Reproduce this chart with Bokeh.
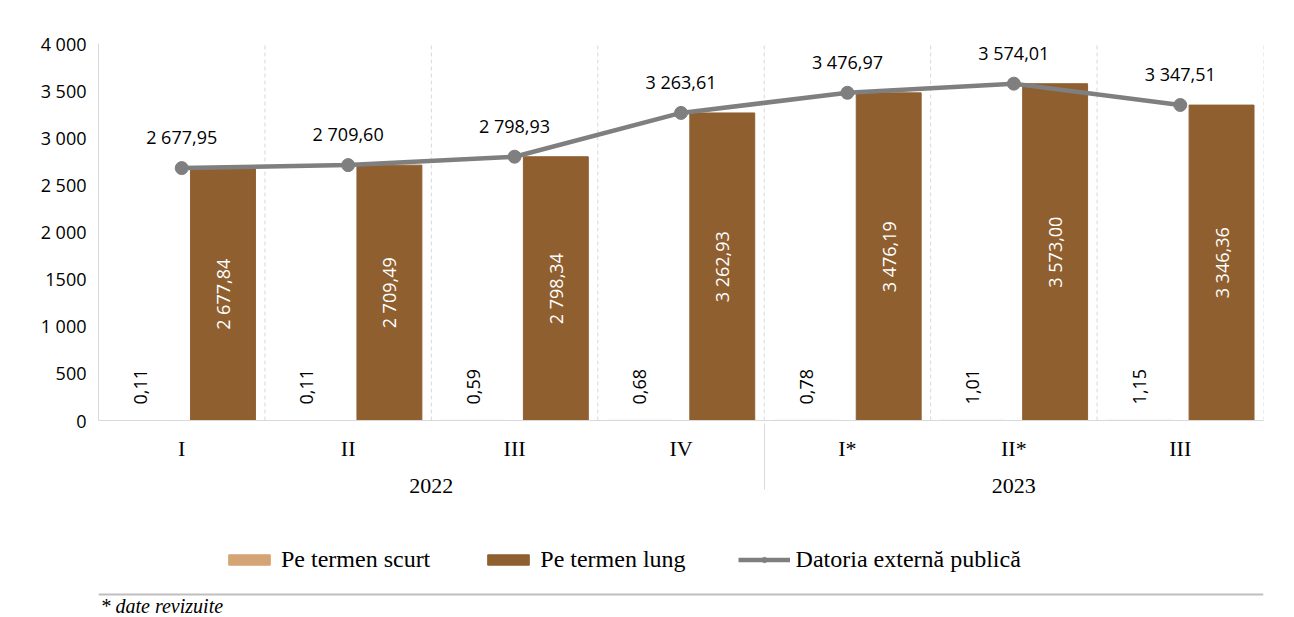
import math
from bokeh.plotting import figure
from bokeh.models import (ColumnDataSource, FactorRange, LabelSet, Legend, LegendItem,
                          Label, Span, FixedTicker, Range1d)
from bokeh.layouts import column
from bokeh.transform import dodge
from bokeh.core.properties import value
from bokeh.embed import file_html
from bokeh.resources import INLINE

# ---------------- data ----------------
years = ["2022", "2022", "2022", "2022", "2023", "2023", "2023"]
quarters = ["I", "II", "III", "IV", "I*", "II*", "III"]
short_term = [0.11, 0.11, 0.59, 0.68, 0.78, 1.01, 1.15]
long_term = [2677.84, 2709.49, 2798.34, 3262.93, 3476.19, 3573.00, 3346.36]
public_debt = [2677.95, 2709.60, 2798.93, 3263.61, 3476.97, 3574.01, 3347.51]
y_ticks = [0, 500, 1000, 1500, 2000, 2500, 3000, 3500, 4000]
y_tick_labels = ["0", "500", "1 000", "1500", "2 000", "2 500", "3 000", "3 500", "4 000"]
series_names = ["Pe termen scurt", "Pe termen lung", "Datoria externă publică"]
footnote = "* date revizuite"

# ---------------- styles ----------------
C_SHORT = "#D5A475"
C_LONG = "#8F5F30"
C_LINE = "#7F7F7F"
C_GRID = "#D9D9D9"
C_BORDER = "#BFBFBF"
SANS = "Open Sans"
SERIF = "Liberation Serif"


def fmt(v):
    s = f"{v:,.2f}"
    return s.replace(",", " ").replace(".", ",")


factors = list(zip(years, quarters))
src = ColumnDataSource(dict(
    x=factors,
    short=short_term,
    long=long_term,
    long_mid=[v / 2 for v in long_term],
    total=public_debt,
    short_lbl=[fmt(v) for v in short_term],
    long_lbl=[fmt(v) for v in long_term],
    total_lbl=[fmt(v) for v in public_debt],
    y0=[0] * len(factors),
    y1=[4000] * len(factors),
))

p = figure(
    x_range=FactorRange(*factors, group_padding=0, range_padding=0),
    y_range=(0, 4000),
    width=1290, height=520,
    output_backend="svg", toolbar_location=None,
    min_border_left=98, min_border_top=43, min_border_right=27, min_border_bottom=100,
    background_fill_color="white", border_fill_color="white",
)
p.outline_line_color = None
p.xgrid.grid_line_color = None
p.ygrid.grid_line_color = None

OFF = 0.248
W = 0.39

# dashed vertical separators at category boundaries
p.segment(x0=dodge("x", 0.5, range=p.x_range), y0="y0",
          x1=dodge("x", 0.5, range=p.x_range), y1="y1",
          source=src, line_color=C_GRID, line_width=1, line_dash="4 3")

r_short = p.vbar(x=dodge("x", -OFF, range=p.x_range), top="short", width=W,
                 source=src, fill_color=C_SHORT, line_color=C_SHORT)
r_long = p.vbar(x=dodge("x", OFF, range=p.x_range), top="long", width=W,
                source=src, fill_color=C_LONG, line_color=C_LONG)
r_line = p.line(x="x", y="total", source=src, line_color=C_LINE, line_width=4.5)
r_pts = p.scatter(x="x", y="total", source=src, size=13, fill_color=C_LINE,
                  line_color=C_LINE)

# labels
p.add_layout(LabelSet(x="x", y="total", text="total_lbl", source=src,
                      text_align="center", text_baseline="bottom", y_offset=19,
                      text_font=value(SANS), text_font_size="18px", text_color="#000000"))
p.add_layout(LabelSet(x=dodge("x", OFF, range=p.x_range), y="long_mid", text="long_lbl",
                      source=src, angle=math.pi / 2, text_align="center",
                      text_baseline="middle",
                      text_font=value(SANS), text_font_size="18px", text_color="#FFFFFF"))
p.add_layout(LabelSet(x=dodge("x", -OFF, range=p.x_range), y="short", text="short_lbl",
                      source=src, angle=math.pi / 2, text_align="left",
                      text_baseline="middle", y_offset=16,
                      text_font=value(SANS), text_font_size="18px", text_color="#000000"))

# axes
p.yaxis.ticker = FixedTicker(ticks=y_ticks)
p.yaxis.major_label_overrides = {t: l for t, l in zip(y_ticks, y_tick_labels)}
p.yaxis.major_label_text_font = SANS
p.yaxis.major_label_text_font_size = "18px"
p.yaxis.major_label_text_color = "#000000"
p.yaxis.major_tick_line_color = None
p.yaxis.minor_tick_line_color = None
p.yaxis.major_tick_out = 0
p.yaxis.major_tick_in = 0
p.yaxis.minor_tick_out = 0
p.yaxis.axis_line_color = C_GRID
p.yaxis.major_label_standoff = 12

p.xaxis.axis_line_color = C_GRID
p.xaxis.major_tick_line_color = None
p.xaxis.minor_tick_line_color = None
p.xaxis.major_tick_out = 0
p.xaxis.major_tick_in = 0
p.xaxis.major_label_text_font = SERIF
p.xaxis.major_label_text_font_size = "22px"
p.xaxis.major_label_text_color = "#000000"
p.xaxis.group_text_font = SERIF
p.xaxis.group_text_font_size = "22px"
p.xaxis.group_text_color = "#000000"
p.xaxis.group_text_font_style = "normal"
p.xaxis.separator_line_color = C_GRID
p.xaxis.separator_line_width = 1
p.xaxis.major_label_standoff = 15

# ---------------- legend + footnote strip ----------------
H2 = 96
q = figure(width=1290, height=H2, x_range=Range1d(0, 1165), y_range=Range1d(0, H2),
           x_axis_type=None, y_axis_type=None, output_backend="svg",
           toolbar_location=None, min_border=0, min_border_left=0, min_border_right=0,
           min_border_top=0, min_border_bottom=0,
           background_fill_color="white", border_fill_color="white")
q.outline_line_color = None
# legend swatch proxies, placed outside the visible range
proxy = ColumnDataSource(dict(x=[-5000], top=[-5000], y=[-5000]))
l_short = q.vbar(x="x", top="top", width=1, source=proxy, fill_color=C_SHORT,
                 line_color=C_SHORT)
l_long = q.vbar(x="x", top="top", width=1, source=proxy, fill_color=C_LONG,
                line_color=C_LONG)
l_line = q.line(x="x", y="y", source=proxy, line_color=C_LINE, line_width=4.5)
l_pts = q.scatter(x="x", y="y", source=proxy, size=9, fill_color=C_LINE, line_color=C_LINE)

legend = Legend(items=[
    LegendItem(label=series_names[0], renderers=[l_short]),
    LegendItem(label=series_names[1], renderers=[l_long]),
    LegendItem(label=series_names[2], renderers=[l_line, l_pts]),
], orientation="horizontal", location=(125, 43),
    glyph_width=52, glyph_height=13, label_standoff=6, spacing=52,
    label_text_font=SERIF, label_text_font_size="24px", label_text_color="#000000",
    border_line_color=None, background_fill_alpha=0, padding=0, margin=0)
q.add_layout(legend, "center")

q.add_layout(Span(location=22, dimension="width", line_color=C_BORDER, line_width=2))
q.add_layout(Label(x=2, y=0, x_units="screen", y_units="screen", text=footnote,
                   text_font=SERIF, text_font_style="italic", text_font_size="20px",
                   text_color="#000000", text_baseline="bottom", text_align="left"))

layout = column(p, q, spacing=0)
open("out.html", "w").write(file_html(layout, INLINE))
